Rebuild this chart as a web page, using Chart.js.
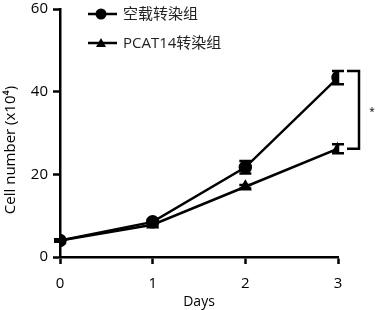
<!DOCTYPE html>
<html>
<head>
<meta charset="utf-8">
<script src="https://cdn.jsdelivr.net/npm/chart.js@4"></script>
<style>
    html, body { margin: 0; padding: 0; background: #fff; }
    #wrap { width: 378px; height: 310px; }
</style>
</head>
<body>
<div id="wrap"><canvas id="cellChart" width="378" height="310"></canvas></div>
<script>
const days = [0, 1, 2, 3];
const dayTicks = ["0", "1", "2", "3"];
const ctrlLabel = "空载转染组";
const ctrlValues = [4.0, 8.5, 21.7, 43.4];
const ctrlErrors = [0.3, 0.5, 1.5, 1.6];
const pcatLabel = "PCAT14转染组";
const pcatValues = [4.0, 7.8, 17.0, 26.2];
const pcatErrors = [0.3, 0.4, 0.4, 1.1];
const yTicks = [0, 20, 40, 60];
const sigMark = "*";

const FONT = '"Open Sans", "Noto Sans CJK SC", sans-serif';

function points(values) {
    return values.map((v, i) => ({ x: days[i], y: v }));
}

// error bars with caps
const errorBars = {
    id: "errorBars",
    afterDatasetsDraw(chart) {
        const { ctx, scales } = chart;
        const sets = [ctrlErrors, pcatErrors];
        ctx.save();
        ctx.strokeStyle = "#000";
        ctx.lineWidth = 2.5;
        chart.data.datasets.forEach((ds, d) => {
            ds.data.forEach((p, i) => {
                const e = sets[d][i];
                const x = scales.x.getPixelForValue(p.x);
                const y1 = scales.y.getPixelForValue(p.y + e);
                const y2 = scales.y.getPixelForValue(p.y - e);
                ctx.beginPath();
                ctx.moveTo(x, y1); ctx.lineTo(x, y2);
                ctx.moveTo(x - 6, y1); ctx.lineTo(x + 6, y1);
                ctx.moveTo(x - 6, y2); ctx.lineTo(x + 6, y2);
                ctx.stroke();
            });
        });
        ctx.restore();
    },
};

// significance bracket at day 3, legend, y title
const extras = {
    id: "extras",
    afterDraw(chart) {
        const { ctx, scales } = chart;
        const last = days.length - 1;
        const x = scales.x.getPixelForValue(days[last]);
        const top = scales.y.getPixelForValue(ctrlValues[last] + ctrlErrors[last]);
        const bot = scales.y.getPixelForValue(pcatValues[last]);
        ctx.save();
        ctx.strokeStyle = "#000";
        ctx.lineWidth = 2.5;
        ctx.beginPath();
        ctx.moveTo(x + 9, top); ctx.lineTo(x + 21, top);
        ctx.lineTo(x + 21, bot); ctx.lineTo(x + 9, bot);
        ctx.stroke();
        ctx.fillStyle = "#000";
        ctx.font = "10px " + FONT;
        ctx.textAlign = "center";
        ctx.textBaseline = "middle";
        ctx.fillText(sigMark, x + 34, (top + bot) / 2 + 2);

        // legend
        chart.data.datasets.forEach((ds, i) => {
            const ly = 14 + i * 29;
            ctx.beginPath();
            ctx.moveTo(88, ly); ctx.lineTo(117, ly);
            ctx.stroke();
            ctx.beginPath();
            if (ds.pointStyle === "triangle") {
                ctx.moveTo(101, ly - 5); ctx.lineTo(106, ly + 4); ctx.lineTo(96, ly + 4);
                ctx.closePath();
            } else {
                ctx.arc(101, ly, 5.5, 0, Math.PI * 2);
            }
            ctx.fill();
            ctx.fillStyle = "#222";
            ctx.font = "15px " + FONT;
            ctx.textAlign = "left";
            ctx.fillText(ds.label, 123, ly + 1);
            ctx.fillStyle = "#000";
        });

        // y title
        ctx.translate(11, 150);
        ctx.rotate(-Math.PI / 2);
        ctx.font = "15px " + FONT;
        ctx.textAlign = "center";
        ctx.fillText("Cell number (x10⁴)", 0, 0);
        ctx.restore();
    },
};

const chart = new Chart(document.getElementById("cellChart"), {
    type: "line",
    data: {
        datasets: [
            {
                label: ctrlLabel,
                data: points(ctrlValues),
                borderColor: "#000",
                backgroundColor: "#000",
                borderWidth: 2.5,
                pointStyle: "circle",
                pointRadius: 5.5,
            },
            {
                label: pcatLabel,
                data: points(pcatValues),
                borderColor: "#000",
                backgroundColor: "#000",
                borderWidth: 2.5,
                pointStyle: "triangle",
                pointRadius: 5,
            },
        ],
    },
    options: {
        responsive: false,
        animation: false,
        layout: { padding: { top: 0, right: 40, left: 0, bottom: 0 } },
        plugins: { legend: { display: false }, tooltip: { enabled: false } },
        scales: {
            x: {
                type: "linear",
                min: 0,
                max: 3,
                afterFit: (s) => { s.height = 53; },
                afterBuildTicks: (s) => { s.ticks = days.map((v) => ({ value: v })); },
                ticks: {
                    color: "#000",
                    font: { family: FONT, size: 15 },
                    padding: 11,
                    callback: (v, i) => dayTicks[i],
                },
                grid: { drawOnChartArea: false, tickLength: 7, tickWidth: 2.5, color: "#000" },
                border: { color: "#000", width: 2.5 },
                title: {
                    display: true,
                    text: "Days",
                    color: "#000",
                    font: { family: FONT, size: 14 },
                    padding: { top: 0, bottom: 0 },
                },
            },
            y: {
                min: 0,
                max: 60,
                afterFit: (s) => { s.width = 60; s.paddingTop = 9; },
                afterBuildTicks: (s) => { s.ticks = yTicks.map((v) => ({ value: v })); },
                ticks: {
                    color: "#000",
                    font: { family: FONT, size: 15, lineHeight: 1 },
                    padding: 5,
                },
                grid: { drawOnChartArea: false, tickLength: 7, tickWidth: 2.5, color: "#000" },
                border: { color: "#000", width: 2.5 },
            },
        },
    },
    plugins: [errorBars, extras],
});
</script>
</body>
</html>
